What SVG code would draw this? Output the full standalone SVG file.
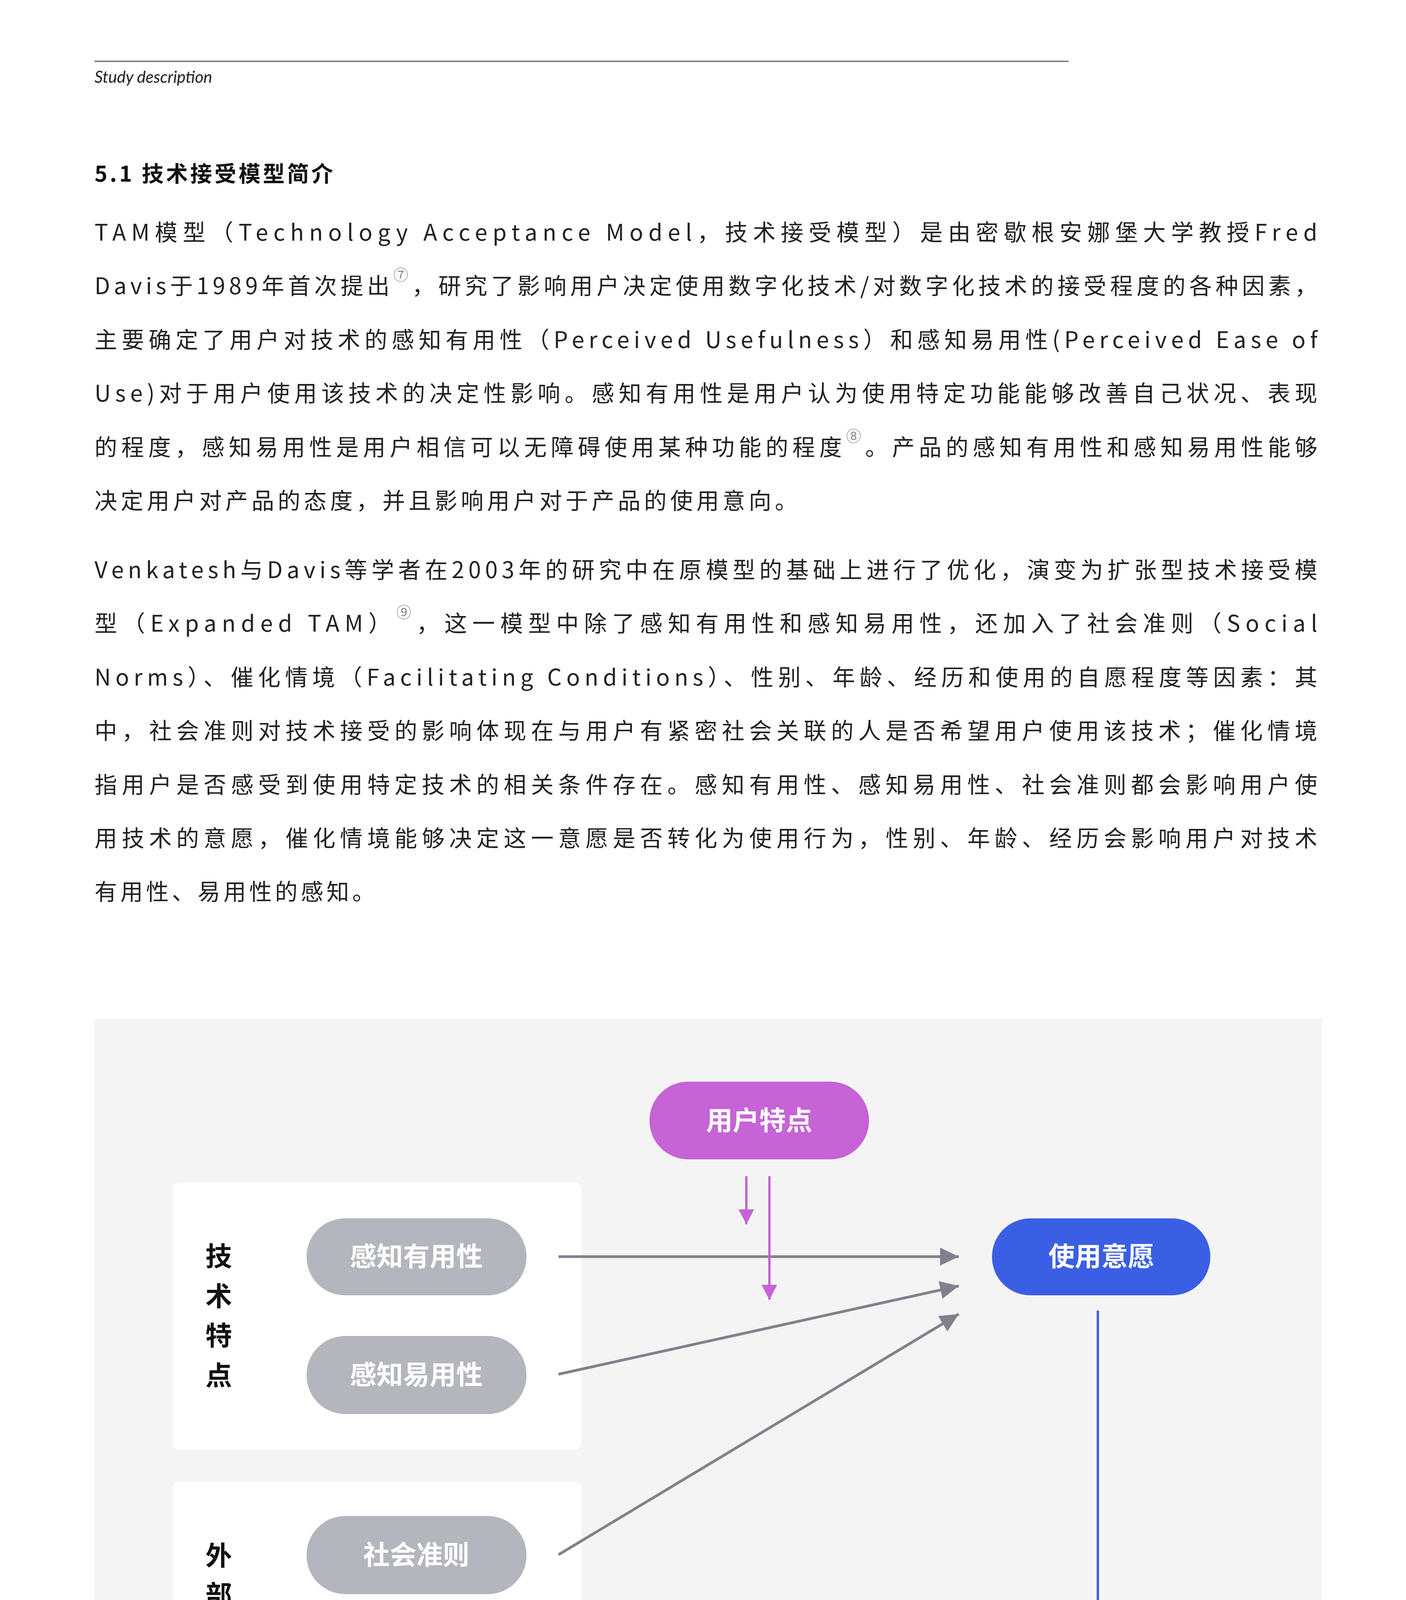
<svg xmlns="http://www.w3.org/2000/svg" width="3600" height="5094" viewBox="0 0 3600 5094">
<style>
.b{font-family:"Noto Sans CJK SC","Noto Sans",sans-serif;font-size:58px;fill:#222;letter-spacing:4px}
.sup{font-size:38px;fill:#888}
.pill{font-family:"Noto Sans CJK SC",sans-serif;font-size:68px;font-weight:700;fill:#fff;text-anchor:middle}
.v{font-family:"Noto Sans CJK SC",sans-serif;font-size:68px;font-weight:700;fill:#111;text-anchor:middle}
.g{stroke:#80818c;stroke-width:7;fill:none}
</style>
<defs>
<marker id="ag" markerUnits="userSpaceOnUse" markerWidth="50" markerHeight="50" refX="48" refY="25" orient="auto"><path d="M0,2 L48,25 L0,48Z" fill="#80818c"/></marker>
<marker id="ap" markerUnits="userSpaceOnUse" markerWidth="40" markerHeight="50" refX="38" refY="20" orient="auto"><path d="M0,0 L38,20 L0,40Z" fill="#c663d6"/></marker>
<marker id="ab" markerUnits="userSpaceOnUse" markerWidth="50" markerHeight="50" refX="46" refY="22" orient="auto"><path d="M0,0 L46,22 L0,44Z" fill="#3a5fe5"/></marker>
</defs>
<rect width="3600" height="5094" fill="#fff"/>
<line x1="242" y1="157" x2="2736" y2="157" stroke="#888" stroke-width="4"/>
<text x="242" y="212" font-family="Lato,'Noto Sans',sans-serif" font-style="italic" font-size="42" fill="#222">Study description</text>
<text x="242" y="465" font-family="'Noto Sans CJK SC',sans-serif" font-weight="700" font-size="56" fill="#111" letter-spacing="6">5.1 技术接受模型简介</text>
<g id="para1">
<text class="b" x="242" y="616" textLength="3135" lengthAdjust="spacing">TAM模型（Technology  Acceptance  Model，技术接受模型）是由密歇根安娜堡大学教授Fred</text>
<text class="b" x="242" y="753" textLength="3135" lengthAdjust="spacing">Davis于1989年首次提出<tspan class="sup" dy="-36">⑦</tspan><tspan dy="36">，研究了影响用户决定使用数字化技术/对数字化技术的接受程度的各种因素，</tspan></text>
<text class="b" x="242" y="891" textLength="3135" lengthAdjust="spacing">主要确定了用户对技术的感知有用性（Perceived  Usefulness）和感知易用性(Perceived  Ease  of</text>
<text class="b" x="242" y="1028" textLength="3135" lengthAdjust="spacing">Use)对于用户使用该技术的决定性影响。感知有用性是用户认为使用特定功能能够改善自己状况、表现</text>
<text class="b" x="242" y="1166" textLength="3135" lengthAdjust="spacing">的程度，感知易用性是用户相信可以无障碍使用某种功能的程度<tspan class="sup" dy="-36">⑧</tspan><tspan dy="36">。产品的感知有用性和感知易用性能够</tspan></text>
<text class="b" x="242" y="1303" style="letter-spacing:9px">决定用户对产品的态度，并且影响用户对于产品的使用意向。</text>
</g>
<g id="para2">
<text class="b" x="242" y="1480" textLength="3135" lengthAdjust="spacing">Venkatesh与Davis等学者在2003年的研究中在原模型的基础上进行了优化，演变为扩张型技术接受模</text>
<text class="b" x="242" y="1617" textLength="3135" lengthAdjust="spacing">型（Expanded  TAM）<tspan class="sup" dy="-36">⑨</tspan><tspan dy="36">，这一模型中除了感知有用性和感知易用性，还加入了社会准则（Social</tspan></text>
<text class="b" x="242" y="1755" textLength="3135" lengthAdjust="spacing">Norms）、催化情境（Facilitating  Conditions）、性别、年龄、经历和使用的自愿程度等因素：其</text>
<text class="b" x="242" y="1892" textLength="3135" lengthAdjust="spacing">中，社会准则对技术接受的影响体现在与用户有紧密社会关联的人是否希望用户使用该技术；催化情境</text>
<text class="b" x="242" y="2030" textLength="3135" lengthAdjust="spacing">指用户是否感受到使用特定技术的相关条件存在。感知有用性、感知易用性、社会准则都会影响用户使</text>
<text class="b" x="242" y="2167" textLength="3135" lengthAdjust="spacing">用技术的意愿，催化情境能够决定这一意愿是否转化为使用行为，性别、年龄、经历会影响用户对技术</text>
<text class="b" x="242" y="2304" style="letter-spacing:8px">有用性、易用性的感知。</text>
</g>
<rect x="242" y="2608" width="3142" height="2029" fill="#f4f4f4"/>
<g id="group-tech"><rect x="442" y="3027" width="1047" height="684" rx="16" fill="#fff"/>
<text class="v" x="560" y="3241">技</text><text class="v" x="560" y="3343">术</text><text class="v" x="560" y="3444">特</text><text class="v" x="560" y="3546">点</text></g>
<g id="group-env"><rect x="442" y="3793" width="1047" height="681" rx="16" fill="#fff"/>
<text class="v" x="560" y="4007">外</text><text class="v" x="560" y="4108">部</text><text class="v" x="560" y="4210">环</text><text class="v" x="560" y="4311">境</text></g>
<g id="n-pu"><rect x="785" y="3119" width="563" height="197" rx="98" fill="#b3b6bc"/><text class="pill" x="1066" y="3241">感知有用性</text></g>
<g id="n-peou"><rect x="785" y="3420" width="563" height="200" rx="99" fill="#b3b6bc"/><text class="pill" x="1066" y="3544">感知易用性</text></g>
<g id="n-sn"><rect x="785" y="3881" width="563" height="200" rx="99" fill="#b3b6bc"/><text class="pill" x="1066" y="4005">社会准则</text></g>
<g id="n-fc"><rect x="785" y="4186" width="563" height="199" rx="99" fill="#b3b6bc"/><text class="pill" x="1066" y="4310">催化情境</text></g>
<g id="n-user"><rect x="1663" y="2769" width="562" height="199" rx="99" fill="#c663d6"/><text class="pill" x="1944" y="2893">用户特点</text></g>
<g id="n-bi"><rect x="2540" y="3119" width="559" height="197" rx="98" fill="#3a5fe5"/><text class="pill" x="2820" y="3241">使用意愿</text></g>
<g id="n-ub"><rect x="2540" y="4186" width="559" height="199" rx="99" fill="#3a5fe5"/><text class="pill" x="2820" y="4310">使用行为</text></g>
<g id="connectors">
<line class="g" x1="1430" y1="3217" x2="2455" y2="3217" marker-end="url(#ag)"/>
<line class="g" x1="1430" y1="3518" x2="2455" y2="3292" marker-end="url(#ag)"/>
<line class="g" x1="1430" y1="3980" x2="2455" y2="3364" marker-end="url(#ag)"/>
<line class="g" x1="1430" y1="4287" x2="2455" y2="4287" marker-end="url(#ag)"/>
<line x1="1911" y1="3011" x2="1911" y2="3134" stroke="#c663d6" stroke-width="6" marker-end="url(#ap)"/>
<line x1="1970" y1="3011" x2="1970" y2="3327" stroke="#c663d6" stroke-width="6" marker-end="url(#ap)"/>
<line x1="2811" y1="3355" x2="2811" y2="4145" stroke="#3a5fe5" stroke-width="6" marker-end="url(#ab)"/>
</g>
<text x="242" y="4946" font-family="'Noto Sans',sans-serif" font-size="50" fill="#111">7</text>
<text x="3377" y="4944" text-anchor="end" font-family="'Noto Sans',sans-serif" font-size="38" fill="#111" letter-spacing="9">ELDERLY-ORIENTED 2022</text>
</svg>
